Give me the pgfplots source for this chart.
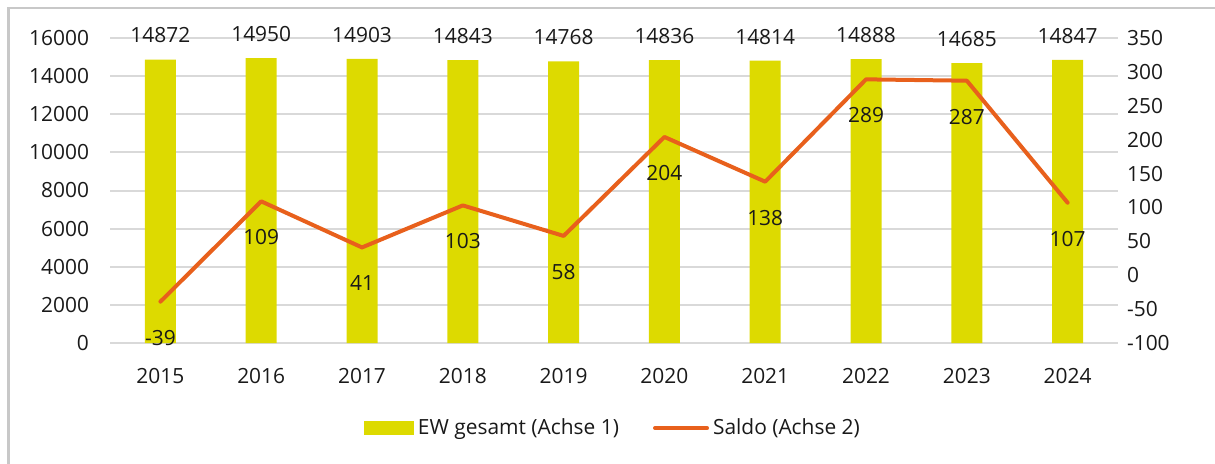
\documentclass[border=0pt]{standalone}
\usepackage{fontspec}
\setmainfont{Open Sans}
\usepackage{pgfplots}
\pgfplotsset{compat=1.18}
\definecolor{ewcol}{RGB}{221,218,0}
\definecolor{salcol}{RGB}{232,96,28}
\definecolor{gridcol}{RGB}{217,217,217}
\definecolor{framecol}{RGB}{200,200,200}
\begin{document}
\begin{tikzpicture}[x=1bp,y=1bp]
\useasboundingbox (0,0) rectangle (607.5,231.5);
\draw[line width=1.2bp, framecol] (4.3,-5) -- (4.3,227.6) -- (620,227.6);
\pgfplotsset{
  common/.style={
    scale only axis, width=504bp, height=152.5bp,
    at={(55bp,60bp)}, anchor=south west,
    xmin=-0.5, xmax=9.5,
    axis line style={draw=none},
    xtick style={draw=none}, ytick style={draw=none},
    scaled y ticks=false,
    /pgf/number format/1000 sep={},
    /pgf/number format/assume math mode=true,
    ticklabel style={font=\fontsize{10.5}{13}\selectfont, text=black!90},
  }
}
\begin{axis}[common,
  ymin=0, ymax=16000, ytick={0,2000,...,16000},
  xtick={0,...,9}, xticklabels={2015,2016,2017,2018,2019,2020,2021,2022,2023,2024},
  xticklabel style={yshift=-5bp},
  yticklabel style={xshift=-7bp},
  ybar, bar width=15.5bp,
]
\pgfplotsinvokeforeach{0,2000,4000,6000,8000,10000,12000,14000,16000}{
  \draw[gridcol, line width=1bp] (axis cs:-0.5,#1) -- (axis cs:9.5,#1);
}
\addplot[fill=ewcol, draw=none, nodes near coords,
  nodes near coords style={anchor=center, yshift=12bp, font=\fontsize{10.5}{13}\selectfont, text=black!90}]
  coordinates {(0,14872) (1,14950) (2,14903) (3,14843) (4,14768) (5,14836) (6,14814) (7,14888) (8,14685) (9,14847)};
\end{axis}
\begin{axis}[common,
  ymin=-100, ymax=350, ytick={-100,-50,...,350},
  axis y line*=right, hide x axis,
  yticklabel style={xshift=1bp},
  legend columns=2,
  legend style={at={(0.5,-0.279)}, anchor=center, draw=none, fill=none,
    font=\fontsize{10.5}{13}\selectfont, text=black!90,
    /tikz/every even column/.append style={column sep=15bp}},
]
\addlegendimage{legend image code/.code={\fill[ewcol] (-6bp,-3.25bp) rectangle (18.5bp,3.25bp);}}
\addlegendentry{EW gesamt (Achse 1)}
\addlegendimage{legend image code/.code={\draw[salcol, line width=2bp, line cap=round] (-6bp,0) -- (20bp,0);}}
\addlegendentry{Saldo (Achse 2)}
\addplot[forget plot, salcol, line width=2bp, mark=none, line join=round, line cap=round,
  nodes near coords,
  nodes near coords style={anchor=center, yshift=-18bp, font=\fontsize{10.5}{13}\selectfont, text=black!90}]
  coordinates {(0,-39) (1,109) (2,41) (3,103) (4,58) (5,204) (6,138) (7,289) (8,287) (9,107)};
\end{axis}
\end{tikzpicture}
\end{document}
